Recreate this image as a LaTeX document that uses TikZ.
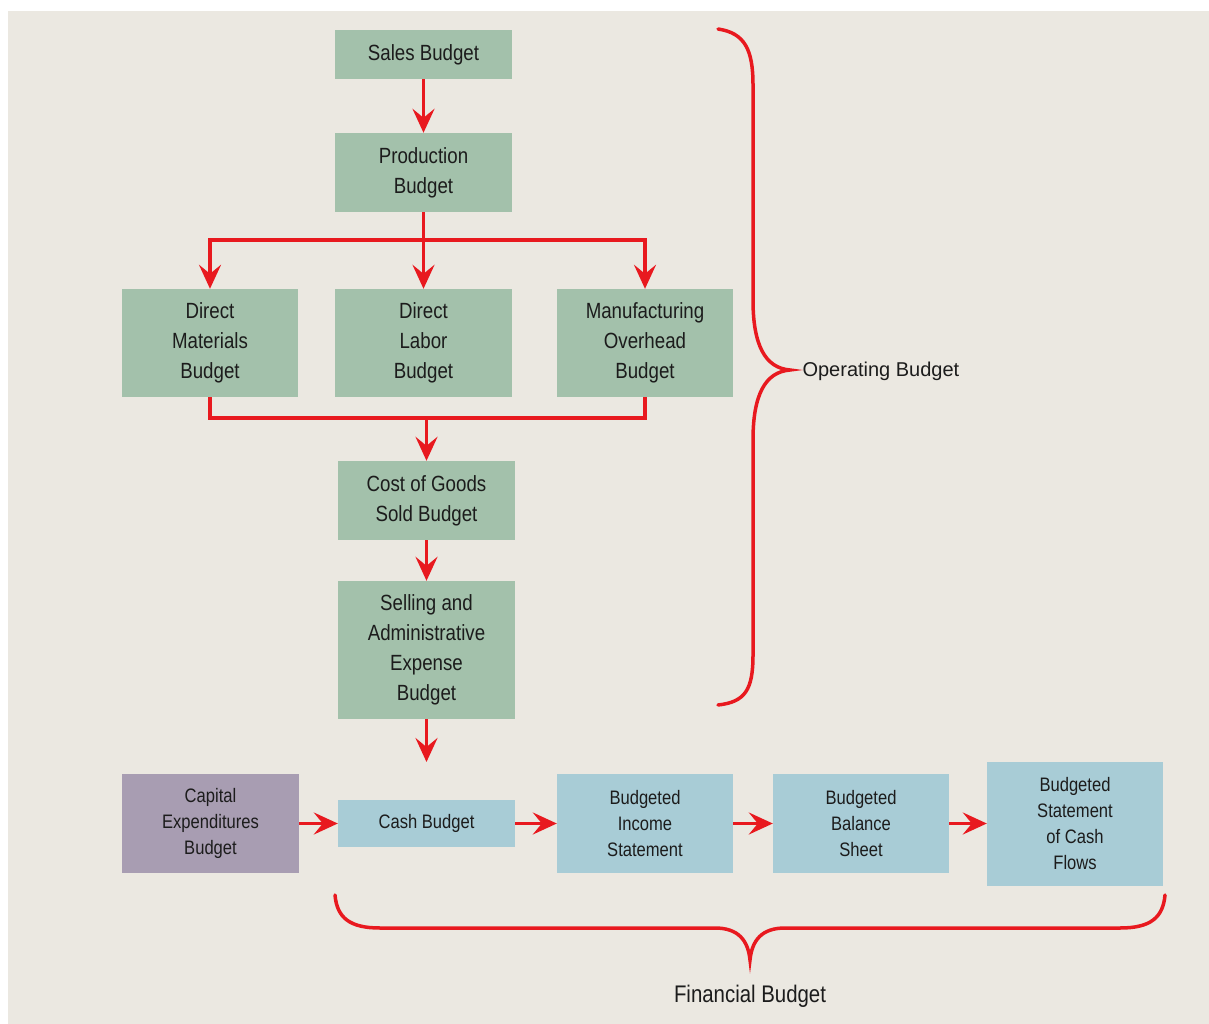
\documentclass[tikz,border=0pt]{standalone}
\usepackage{fontspec}
\setmainfont[FakeStretch=0.85]{Liberation Sans}
\newfontfamily\widefont{Liberation Sans}
\usetikzlibrary{arrows.meta}

\definecolor{paper}{RGB}{235,232,225}
\definecolor{opgreen}{RGB}{163,193,171}
\definecolor{finblue}{RGB}{168,204,214}
\definecolor{capviolet}{RGB}{168,157,178}
\definecolor{flowred}{RGB}{232,25,31}
\definecolor{ink}{RGB}{28,28,28}

\tikzset{
  box/.style={rectangle, inner sep=0pt, align=center, text=ink,
    font=\fontsize{22}{30}\selectfont},
  opbox/.style={box, fill=opgreen},
  finbox/.style={box, fill=finblue, font=\fontsize{19.5}{26}\selectfont},
  capbox/.style={box, fill=capviolet, font=\fontsize{19.5}{26}\selectfont},
  flowline/.style={draw=flowred, line width=3.5pt},
  link/.style={flowline, -{Stealth[length=24pt, width=22pt, inset=9pt]}},
  bracket/.style={draw=flowred, line width=3.5pt, line cap=round},
}

\begin{document}
\begin{tikzpicture}[x=1pt, y=-1pt]
  % page and paper
  \fill[white] (0,0) rectangle (1209,1024);
  \fill[paper] (8,11) rectangle (1209,1024);
  \useasboundingbox (0,0) rectangle (1209,1024);

  % operating budget boxes
  \node[opbox, minimum width=177pt, minimum height=49pt]  (sales) at (423.5,54.5) {Sales Budget};
  \node[opbox, minimum width=177pt, minimum height=79pt]  (prod)  at (423.5,172.5) {Production\\Budget};
  \node[opbox, minimum width=176pt, minimum height=108pt] (dm)    at (210,343) {Direct\\Materials\\Budget};
  \node[opbox, minimum width=177pt, minimum height=108pt] (dl)    at (423.5,343) {Direct\\Labor\\Budget};
  \node[opbox, minimum width=176pt, minimum height=108pt] (mo)    at (645,343) {Manufacturing\\Overhead\\Budget};
  \node[opbox, minimum width=177pt, minimum height=79pt]  (cogs)  at (426.5,500.5) {Cost of Goods\\Sold Budget};
  \node[opbox, minimum width=177pt, minimum height=138pt] (sga)   at (426.5,650) {Selling and\\Administrative\\Expense\\Budget};

  % financial budget boxes
  \node[capbox, minimum width=177pt, minimum height=99pt] (cap)  at (210.5,823.5) {Capital\\Expenditures\\Budget};
  \node[finbox, minimum width=177pt, minimum height=47pt] (cash) at (426.5,823.5) {Cash Budget};
  \node[finbox, minimum width=176pt, minimum height=99pt] (inc)  at (645,823.5) {Budgeted\\Income\\Statement};
  \node[finbox, minimum width=176pt, minimum height=99pt] (bal)  at (861,823.5) {Budgeted\\Balance\\Sheet};
  \node[finbox, minimum width=176pt, minimum height=124pt] (scf) at (1075,824) {Budgeted\\Statement\\of Cash\\Flows};

  % helper levels for the split and the merge
  \coordinate (split) at (0,240);
  \coordinate (merge) at (0,418);
  \coordinate (sgaend) at (426.5,762);

  % operating flow
  \draw[link] (sales) -- (prod);
  \draw[flowline] (prod.south) -- (prod.south |- split);
  \draw[link] (prod.south |- split) -| (dm.north);
  \draw[link] (prod.south |- split) -| (mo.north);
  \draw[link] (prod) -- (dl);
  \draw[flowline] (dm.south) |- (mo.south |- merge) -- (mo.south);
  \draw[link] (cogs.north |- merge) -- (cogs.north);
  \draw[link] (cogs) -- (sga);
  \draw[link] (sga.south) -- (sgaend);

  % financial flow
  \draw[link] (cap.east) -- (cap.east -| cash.west);
  \draw[link] (cash.east) -- (cash.east -| inc.west);
  \draw[link] (inc.east) -- (inc.east -| bal.west);
  \draw[link] (bal.east) -- (bal.east -| scf.west);

  % operating budget brace
  \coordinate (optip) at (790,370);
  \draw[bracket] (718,29) .. controls (745,33) and (753,50) .. (753,85)
    -- (753,300) .. controls (753,345) and (765,368) .. (optip)
    .. controls (765,372) and (753,395) .. (753,440)
    -- (753,655) .. controls (753,690) and (745,702) .. (718,705);
  \node[text=ink, anchor=west, font=\widefont\fontsize{20}{24}\selectfont] (oplabel) at (799,371) {Operating Budget};

  % financial budget brace
  \coordinate (fintip) at (750,960);
  \draw[bracket] (335,895) .. controls (337,918) and (350,928) .. (380,928)
    -- (715,928) .. controls (738,928) and (748,940) .. (fintip)
    .. controls (752,940) and (762,928) .. (785,928)
    -- (1120,928) .. controls (1150,928) and (1163,918) .. (1165,895);
  \node[text=ink, font=\fontsize{24}{28}\selectfont] (finlabel) at (750,996) {Financial Budget};
\end{tikzpicture}
\end{document}
